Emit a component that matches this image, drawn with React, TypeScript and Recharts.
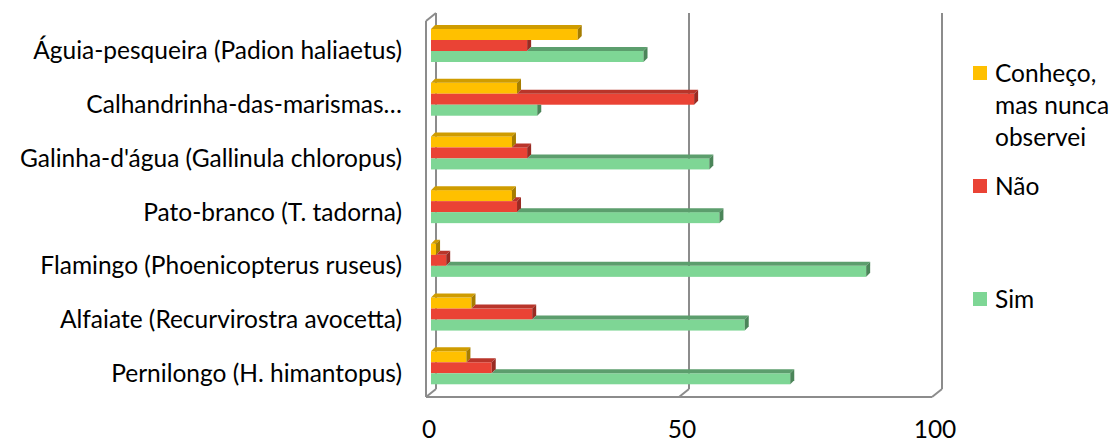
import React from "react";
import { BarChart, Bar, XAxis, YAxis, CartesianGrid } from "recharts";

const categories = [
  "Águia-pesqueira (Padion haliaetus)",
  "Calhandrinha-das-marismas…",
  "Galinha-d'água (Gallinula chloropus)",
  "Pato-branco (T. tadorna)",
  "Flamingo (Phoenicopterus ruseus)",
  "Alfaiate (Recurvirostra avocetta)",
  "Pernilongo (H. himantopus)",
];
const conheco = [29, 17, 16, 16, 1, 8, 7];
const nao = [19, 52, 19, 17, 3, 20, 12];
const sim = [42, 21, 55, 57, 86, 62, 71];
const xTicks = [0, 50, 100];

const SERIES = [
  { key: "conheco", name: "Conheço, mas nunca observei", front: "#FFC000", top: "#CF9C00", side: "#A67D00" },
  { key: "nao", name: "Não", front: "#EA4335", top: "#B9352A", side: "#992B22" },
  { key: "sim", name: "Sim", front: "#7ED695", top: "#5C9E6D", side: "#4B8559" },
];

const data = categories.map((name, i) => ({
  name,
  conheco: conheco[i],
  nao: nao[i],
  sim: sim[i],
}));

const FONT = "Lato, 'Open Sans', sans-serif";
const FS = 24.5;
const GRID = "#8c8c8c";
const DX = 4;
const DY = 4;

function make3D(idx: number) {
  const s = SERIES[idx];
  const above = idx > 0 ? SERIES[idx - 1].key : null;
  return (props: any) => {
    const { x, y, width, height, payload } = props;
    const v = payload[s.key];
    if (!v || width <= 0) return <g />;
    const aboveLen = above ? (width * payload[above]) / v : 0;
    const sx = x + Math.min(aboveLen, width);
    const r = x + width;
    const hidden = aboveLen > width;
    return (
      <g>
        <rect x={x} y={y} width={width} height={height} fill={s.front} />
        {sx < r && (
          <polygon
            points={`${sx},${y} ${sx + DX},${y - DY} ${r + DX},${y - DY} ${r},${y}`}
            fill={s.top}
          />
        )}
        <polygon
          points={
            hidden
              ? `${r},${y} ${r + DX},${y} ${r + DX},${y + height - DY} ${r},${y + height}`
              : `${r},${y} ${r + DX},${y - DY} ${r + DX},${y + height - DY} ${r},${y + height}`
          }
          fill={s.side}
        />
      </g>
    );
  };
}

const gridLine = (p: any) => {
  const x = p.x1;
  const top = p.y1;
  const bottom = p.y2;
  return (
    <g key={`v-${x}`}>
      <line x1={x + 5} y1={top - 6} x2={x + 5} y2={bottom - 6} stroke={GRID} strokeWidth={2} />
      <line x1={x - 5} y1={bottom + 2} x2={x + 5} y2={bottom - 6} stroke={GRID} strokeWidth={2} />
      {p.index === 0 && (
        <line x1={x - 5} y1={top + 2} x2={x + 5} y2={top - 6} stroke={GRID} strokeWidth={2} />
      )}
    </g>
  );
};

const YTick = (p: any) => (
  <text x={p.x} y={p.y + 4} textAnchor="end" dominantBaseline="central" fontFamily={FONT} fontSize={FS} fill="#000">
    {p.payload.value}
  </text>
);

const XTick = (p: any) => (
  <text x={p.x - 2} y={438} textAnchor="middle" fontFamily={FONT} fontSize={FS} fill="#000">
    {p.payload.value}
  </text>
);

function LegendBox() {
  const gaps = [0, 17, 81];
  return (
    <div style={{ position: "absolute", left: 973, top: 57, width: 145, fontFamily: FONT, fontSize: FS, color: "#000" }}>
      {SERIES.map((s, i) => (
        <div key={s.key} style={{ display: "flex", alignItems: "flex-start", marginTop: gaps[i] }}>
          <div style={{ width: 14, height: 14, background: s.front, marginTop: 9, flexShrink: 0 }} />
          <div style={{ marginLeft: 8, lineHeight: "32px", width: 123 }}>{s.name}</div>
        </div>
      ))}
    </div>
  );
}

export default function App() {
  return (
    <div style={{ position: "absolute", left: 0, top: 0, width: 1118, height: 443, background: "#fff", overflow: "hidden" }}>
      <BarChart
        width={1118}
        height={443}
        data={data}
        layout="vertical"
        margin={{ top: 19, right: 181, bottom: 18, left: 0 }}
        barGap={0}
        barSize={11}
      >
        <CartesianGrid horizontal={false} vertical={gridLine} />
        <XAxis
          type="number"
          domain={[0, 100]}
          ticks={xTicks}
          height={30}
          tickLine={false}
          axisLine={{ stroke: GRID, strokeWidth: 2, transform: "translate(-5,2)" } as any}
          tick={<XTick />}
        />
        <YAxis
          type="category"
          dataKey="name"
          width={431}
          tickLine={false}
          tickMargin={23}
          axisLine={{ stroke: GRID, strokeWidth: 2, transform: "translate(-5,2)" } as any}
          tick={<YTick />}
          interval={0}
        />
        {SERIES.map((s, i) => (
          <Bar key={s.key} dataKey={s.key} name={s.name} shape={make3D(i)} isAnimationActive={false} />
        ))}
      </BarChart>
      <LegendBox />
    </div>
  );
}
